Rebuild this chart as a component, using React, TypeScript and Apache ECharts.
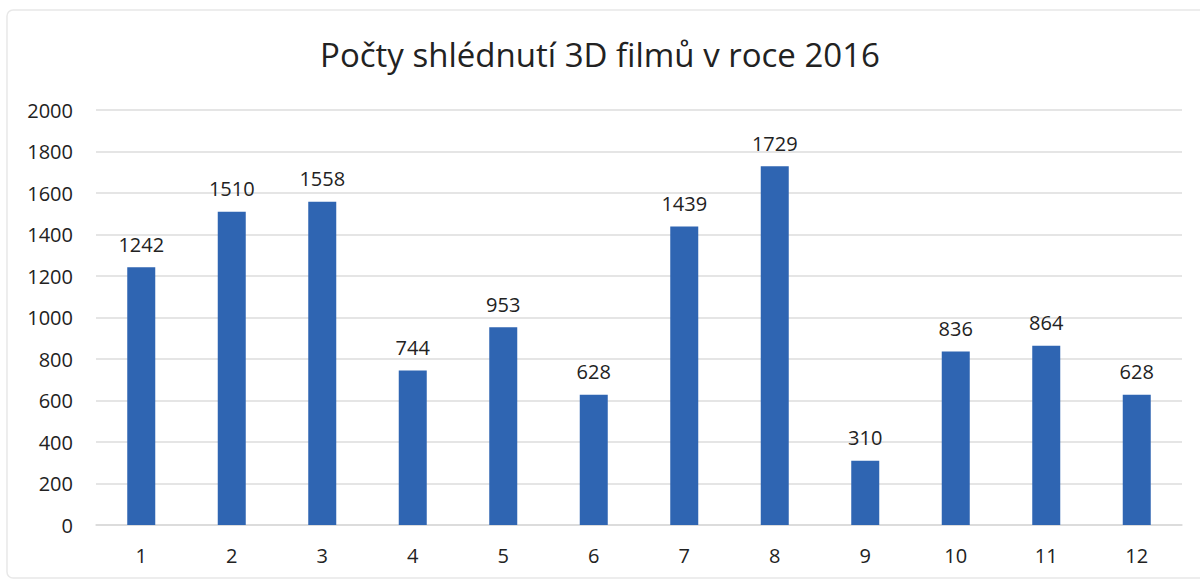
import React, { useEffect, useRef } from "react";
import * as echarts from "echarts";

const titleText = "Počty shlédnutí 3D filmů v roce 2016";
const categories = ["1", "2", "3", "4", "5", "6", "7", "8", "9", "10", "11", "12"];
const views = [1242, 1510, 1558, 744, 953, 628, 1439, 1729, 310, 836, 864, 628];

export default function App() {
  const ref = useRef<HTMLDivElement>(null);
  useEffect(() => {
    if (!ref.current) return;
    const chart = echarts.init(ref.current, undefined, { renderer: "svg" });
    const font = "'Open Sans', 'Noto Sans', sans-serif";
    chart.setOption({
      animation: false,
      backgroundColor: "#ffffff",
      textStyle: { fontFamily: font },
      title: {
        text: titleText,
        left: "center",
        top: 33,
        textStyle: { fontFamily: font, fontSize: 33, fontWeight: "normal", color: "#222" },
      },
      graphic: [
        {
          type: "rect",
          shape: { x: 7, y: 10, width: 1210, height: 568, r: 6 },
          style: { fill: "none", stroke: "#e8e8e8", lineWidth: 1.5 },
          silent: true,
        },
      ],
      grid: { left: 96, right: 18, top: 110, bottom: 57, containLabel: false },
      xAxis: {
        type: "category",
        data: categories,
        axisLine: { show: true, lineStyle: { color: "#d9d9d9", width: 1.5 } },
        axisTick: { show: false },
        axisLabel: { color: "#222", fontSize: 20, margin: 20, fontFamily: font },
      },
      yAxis: {
        type: "value",
        min: 0,
        max: 2000,
        interval: 200,
        axisLine: { show: false },
        axisTick: { show: false },
        splitLine: { lineStyle: { color: "#dcdcdc", width: 1.5 } },
        axisLabel: {
          color: "#222",
          fontSize: 20,
          margin: 23,
          fontFamily: font,
          formatter: (v: number) => String(v),
        },
      },
      series: [
        {
          type: "bar",
          data: views,
          barWidth: 28,
          itemStyle: { color: "#2f65b2" },
          label: {
            show: true,
            position: "top",
            distance: 13,
            color: "#222",
            fontSize: 20,
            fontFamily: font,
          },
        },
      ],
    });
    return () => chart.dispose();
  }, []);
  return (
    <div
      ref={ref}
      style={{ position: "absolute", left: 0, top: 0, width: 1200, height: 582 }}
    />
  );
}
